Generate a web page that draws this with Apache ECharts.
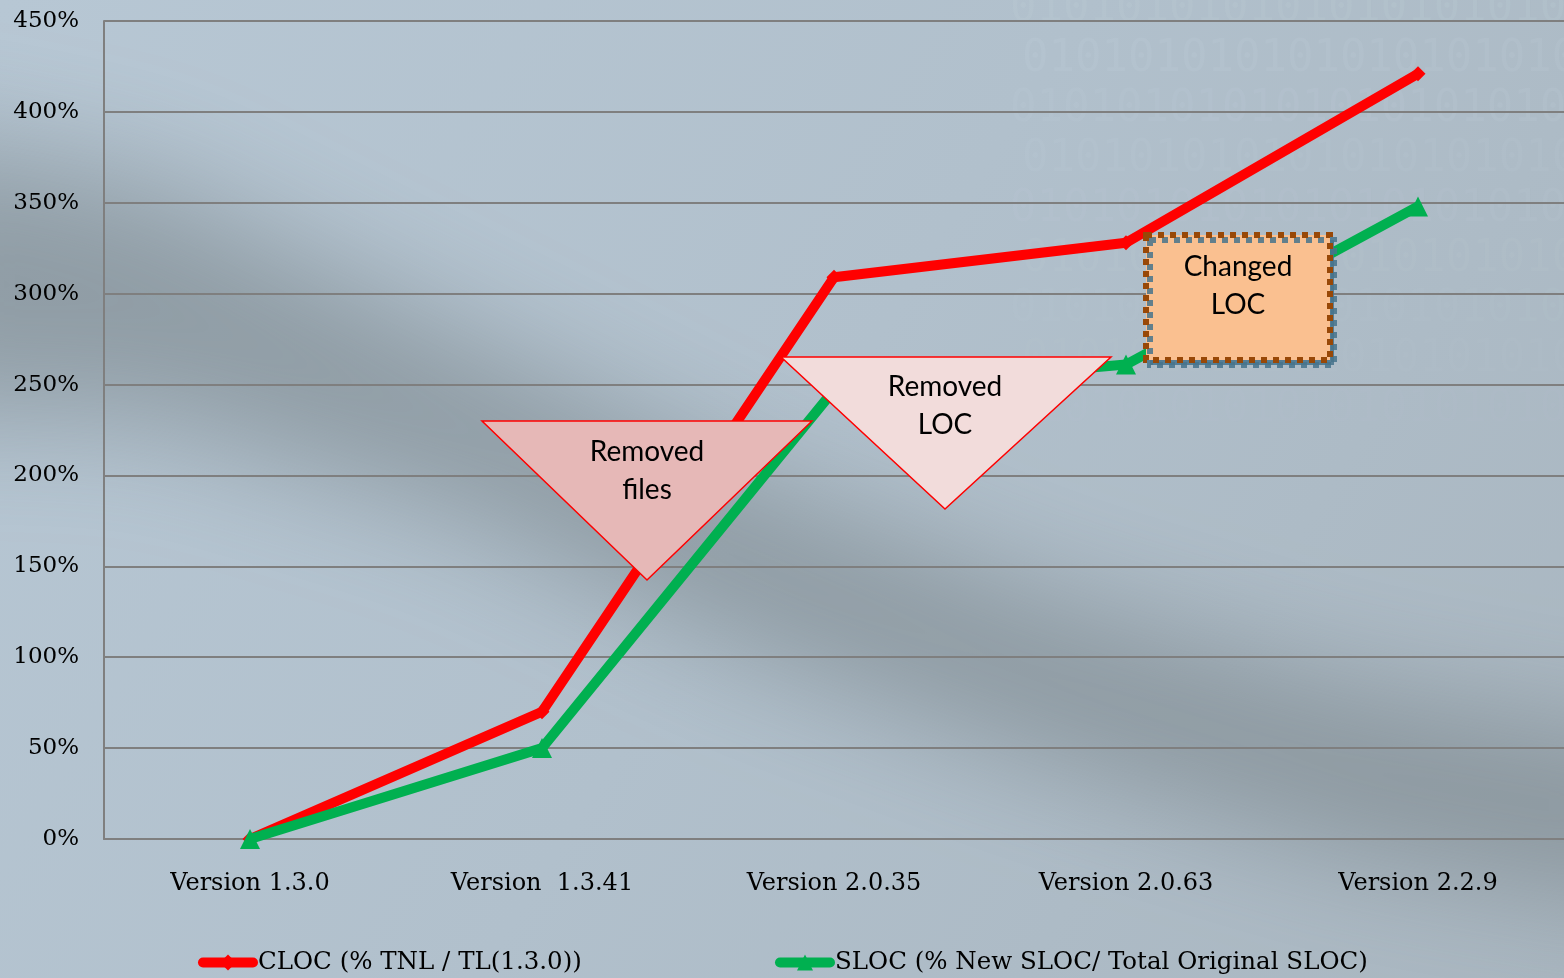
<!DOCTYPE html>
<html>
<head>
<meta charset="utf-8">
<script src="https://cdn.jsdelivr.net/npm/echarts@6/dist/echarts.min.js"></script>
<style>
  html, body { margin: 0; padding: 0; }
  #chart { width: 1564px; height: 978px; }
</style>
</head>
<body>
<div id="chart"></div>
<script>
// Versions compared and growth relative to version 1.3.0 (percent)
const categories = ['Version 1.3.0', 'Version  1.3.41', 'Version 2.0.35', 'Version 2.0.63', 'Version 2.2.9'];
const clocValues = [0, 70, 309, 328, 421];
const slocValues = [0, 50, 247, 261, 348];
const clocName = 'CLOC (% TNL / TL(1.3.0))';
const slocName = 'SLOC (% New SLOC/ Total Original SLOC)';

const serif = '"DejaVu Serif", "Liberation Serif", serif';
const sans = 'Lato, "Open Sans", sans-serif';

const chart = echarts.init(document.getElementById('chart'));

// Soft dark diagonal shadow across the backdrop (shape off-canvas, only its blurred shadow shows)
const OFF = 4000;
const bandTop = [[-200, 110], [150, 180], [450, 330], [750, 480], [1050, 600], [1350, 690], [1800, 770]];
const bandBot = [[1800, 930], [1350, 850], [1050, 760], [750, 650], [450, 510], [150, 420], [-200, 410]];
const bandPts = bandTop.concat(bandBot).map(p => [p[0] - OFF, p[1]]);

// Faint binary digits in the upper right of the backdrop
const binaryRows = [];
for (let i = 0; i < 9; i++) {
  binaryRows.push({
    type: 'text', z: -9, silent: true,
    left: 1010 + (i % 2) * 12, top: -12 + i * 50,
    style: {
      text: '0101010101010101010101',
      font: '44px "DejaVu Sans Mono", monospace',
      fill: 'rgba(215,228,238,' + (0.09 - i * 0.008).toFixed(3) + ')'
    }
  });
}

const legendBase = {
  top: 950,
  padding: 0,
  itemWidth: 50, itemHeight: 20, itemGap: 0,
  lineStyle: { width: 10, cap: 'round' },
  textStyle: { fontFamily: serif, fontSize: 24.5, color: '#000' }
};

const option = {
  animation: false,
  backgroundColor: 'transparent',
  grid: { left: 104, right: 0, top: 21, bottom: 139, containLabel: false },
  legend: [
    Object.assign({ data: [clocName], left: 198 }, legendBase),
    Object.assign({ data: [slocName], left: 775 }, legendBase)
  ],
  xAxis: {
    type: 'category',
    data: categories,
    boundaryGap: true,
    axisLine: { show: true, lineStyle: { color: '#7f7f7f', width: 2 } },
    axisTick: { show: false },
    axisLabel: { fontFamily: serif, fontSize: 24, color: '#000', margin: 33 }
  },
  yAxis: {
    type: 'value',
    min: 0, max: 450, interval: 50,
    axisLine: { show: true, lineStyle: { color: '#7f7f7f', width: 2 } },
    axisTick: { show: false },
    axisLabel: { formatter: '{value}%', fontFamily: serif, fontSize: 23, color: '#000', margin: 25 },
    splitLine: { show: true, lineStyle: { color: '#7f7f7f', width: 2 } }
  },
  series: [
    {
      name: clocName, type: 'line', data: clocValues, z: 3,
      symbol: 'diamond', symbolSize: 15, showSymbol: true,
      lineStyle: { color: '#ff0000', width: 10 },
      itemStyle: { color: '#ff0000' }
    },
    {
      name: slocName, type: 'line', data: slocValues, z: 4,
      symbol: 'triangle', symbolSize: 20, showSymbol: true,
      lineStyle: { color: '#00b050', width: 10 },
      itemStyle: { color: '#00b050' }
    }
  ],
  graphic: [
    {
      type: 'rect', z: -20, silent: true,
      shape: { x: 0, y: 0, width: 1564, height: 978 },
      style: {
        fill: new echarts.graphic.LinearGradient(0, 0, 1, 1, [
          { offset: 0, color: '#b7c7d4' },
          { offset: 0.5, color: '#b1c0cc' },
          { offset: 1, color: '#a9b6c0' }
        ])
      }
    },
    {
      type: 'polygon', z: -10, silent: true,
      shape: { points: bandPts },
      style: {
        fill: '#000',
        shadowColor: 'rgba(105,115,120,0.5)',
        shadowBlur: 120,
        shadowOffsetX: OFF,
        shadowOffsetY: 0
      }
    },
    ...binaryRows,
    // "Removed files" callout
    {
      type: 'polygon', z: 50,
      shape: { points: [[482, 421], [812, 421], [647, 580]] },
      style: { fill: '#e6b8b7', stroke: '#ff0000', lineWidth: 1.5 }
    },
    {
      type: 'text', z: 51,
      x: 647, y: 433,
      style: { text: 'Removed\nfiles', font: '28px ' + sans, fill: '#000', align: 'center', verticalAlign: 'top', lineHeight: 38 }
    },
    // "Removed LOC" callout
    {
      type: 'polygon', z: 50,
      shape: { points: [[781, 357], [1111, 357], [945, 509]] },
      style: { fill: '#f2dcdb', stroke: '#ff0000', lineWidth: 1.5 }
    },
    {
      type: 'text', z: 51,
      x: 945, y: 368,
      style: { text: 'Removed\nLOC', font: '28px ' + sans, fill: '#000', align: 'center', verticalAlign: 'top', lineHeight: 38 }
    },
    // "Changed LOC" callout
    {
      type: 'rect', z: 50,
      shape: { x: 1146, y: 235, width: 184, height: 125 },
      style: {
        fill: '#fac090', stroke: '#984807', lineWidth: 6, lineDash: [6, 6],
        shadowColor: 'rgba(70,115,140,0.85)', shadowOffsetX: 4, shadowOffsetY: 5, shadowBlur: 0
      }
    },
    {
      type: 'text', z: 51,
      x: 1238, y: 248,
      style: { text: 'Changed\nLOC', font: '28px ' + sans, fill: '#000', align: 'center', verticalAlign: 'top', lineHeight: 38 }
    }
  ]
};

chart.setOption(option);
</script>
</body>
</html>
